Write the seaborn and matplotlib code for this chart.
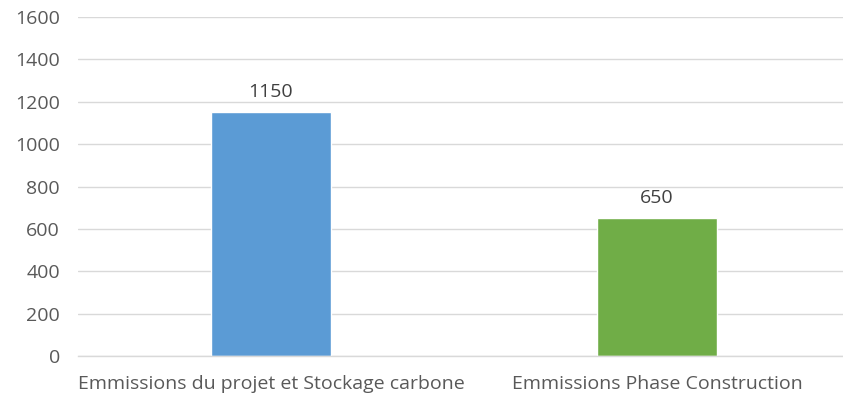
import matplotlib
matplotlib.use("Agg")
import matplotlib.pyplot as plt
import seaborn as sns
import pandas as pd

categories = ["Emmissions du projet et Stockage carbone", "Emmissions Phase Construction"]
values = [1150, 650]
colors = ["#5B9BD5", "#70AD47"]
yticks = [0, 200, 400, 600, 800, 1000, 1200, 1400, 1600]

sns.set_theme(style="white")
plt.rcParams['font.family'] = ['Open Sans', 'DejaVu Sans']

df = pd.DataFrame({"cat": categories, "val": values})

fig = plt.figure(figsize=(8.43, 3.97), dpi=100)
W, H = 843, 397
left, right, bottom, top = 78, 843, 356, 17
ax = fig.add_axes([left / W, 1 - bottom / H, (right - left) / W, (bottom - top) / H])

sns.barplot(data=df, x="cat", y="val", hue="cat", palette=colors, width=0.31,
            legend=False, ax=ax, saturation=1)

ax.set_ylim(0, 1600)
ax.set_xlim(-0.5, 1.482)
ax.set_yticks(yticks)
ax.set_yticklabels([str(t) for t in yticks])
ax.yaxis.grid(True, color="#D9D9D9", linewidth=1)
ax.set_axisbelow(True)
for s in ["top", "right", "left"]:
    ax.spines[s].set_visible(False)
ax.spines["bottom"].set_color("#D9D9D9")
ax.spines["bottom"].set_linewidth(1)
ax.tick_params(axis="both", length=0, labelsize=14, colors="#595959")
ax.tick_params(axis="x", pad=14)
ax.tick_params(axis="y", pad=13)
ax.set_xlabel("")
ax.set_ylabel("")

for i, v in enumerate(values):
    ax.annotate(str(v), (i, v), xytext=(0, 8), textcoords="offset points",
                ha="center", va="bottom", fontsize=14, color="#404040")

fig.savefig("out.png", dpi=100)
